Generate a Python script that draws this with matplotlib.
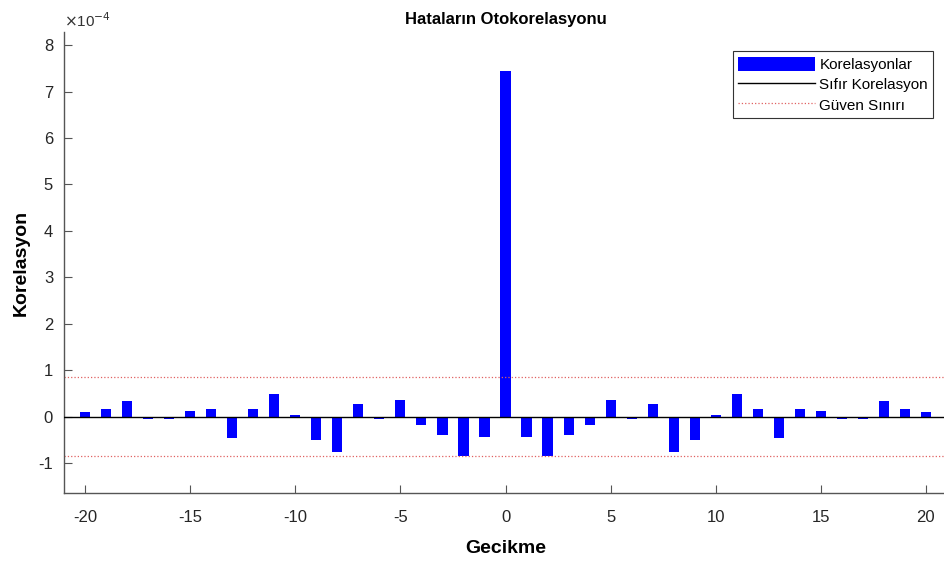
import numpy as np
import matplotlib
matplotlib.use("Agg")
import matplotlib.pyplot as plt

plt.rcParams['font.family'] = ['Liberation Sans', 'DejaVu Sans']
plt.rcParams['axes.unicode_minus'] = False

# Residual autocorrelation by lag, in units of 1e-4
lags = list(range(-20, 21))
half = [0.10, 0.165, 0.33, -0.05, -0.05, 0.11, 0.16, -0.47, 0.17, 0.49,
        0.03, -0.50, -0.76, 0.28, -0.06, 0.36, -0.18, -0.40, -0.84, -0.44]
corr_e4 = half + [7.45] + half[::-1]
conf_bound_e4 = 0.85

fig = plt.figure(figsize=(9.44, 5.63), dpi=100)
ax = fig.add_axes([0.068, 0.124, 0.935, 0.819])

bars = ax.bar(lags, corr_e4, width=0.48, color='#0000ff', label='Korelasyonlar', zorder=2)
zero = ax.axhline(0, color='black', linewidth=1.0, label='Sıfır Korelasyon', zorder=3)
conf = ax.axhline(conf_bound_e4, color='#e06060', linestyle=':', linewidth=0.9,
                  label='Güven Sınırı')
ax.axhline(-conf_bound_e4, color='#e06060', linestyle=':', linewidth=0.9)

ax.set_xlim(-21, 21)
ax.set_ylim(-1.65, 8.28)
ax.set_xticks(range(-20, 21, 5))
ax.set_yticks(range(-1, 9))
ax.text(0.0, 1.005, r'$\times$10$^{-4}$', transform=ax.transAxes,
        fontsize=11, color='#333333', ha='left', va='bottom')

for side in ('top', 'right'):
    ax.spines[side].set_visible(False)
for side in ('left', 'bottom'):
    ax.spines[side].set_color('#555555')
    ax.spines[side].set_linewidth(1.0)
ax.tick_params(direction='in', length=6, width=0.8, colors='#555555',
               labelcolor='#262626', labelsize=12)
ax.tick_params(axis='x', pad=12)
ax.tick_params(axis='y', pad=8)

ax.set_title('Hataların Otokorelasyonu', fontsize=12, fontweight='bold', pad=6)
ax.set_xlabel('Gecikme', fontsize=14, fontweight='bold', labelpad=11)
ax.set_ylabel('Korelasyon', fontsize=14, fontweight='bold', labelpad=6)

leg = ax.legend(handles=[bars, zero, conf], loc='upper right',
                bbox_to_anchor=(0.99, 0.968), fontsize=11,
                fancybox=False, framealpha=1, edgecolor='#333333',
                handlelength=5.0, handleheight=1.1, handletextpad=0.3,
                borderpad=0.35, labelspacing=0.3, borderaxespad=0.3)
leg.get_frame().set_linewidth(0.8)

fig.savefig('out.png', dpi=100)
